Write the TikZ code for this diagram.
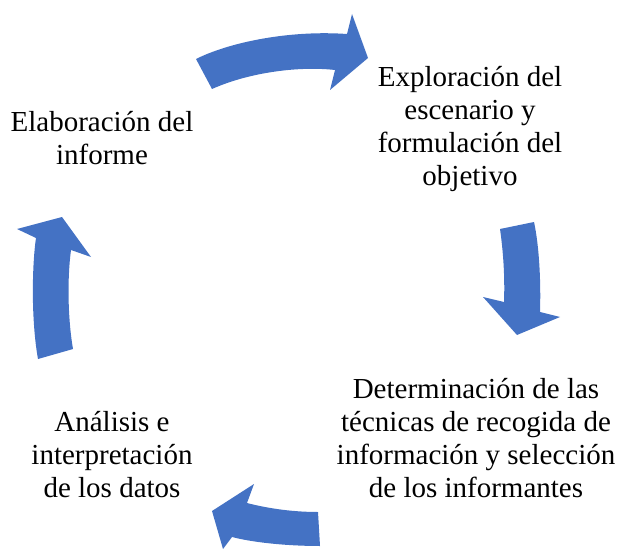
\documentclass[tikz,border=0pt]{standalone}
\usepackage{fontspec}
\setmainfont{Liberation Serif}
\definecolor{arrowblue}{RGB}{68,114,196}
\tikzset{
  cyclearrow/.style={fill=arrowblue, draw=none},
  steptext/.style={align=center, inner sep=0pt, anchor=base, font=\fontsize{29bp}{33bp}\selectfont}
}
\begin{document}
\begin{tikzpicture}[x=1bp,y=-1bp]
\useasboundingbox (0,0) rectangle (619,550);
% top arrow
\fill[cyclearrow] (196,59) .. controls (230,42) and (290,30) .. (347,34)
  -- (352,14) -- (368,58) -- (330,90) -- (335,70)
  .. controls (300,66) and (250,72) .. (212,89) -- cycle;
% right arrow
\fill[cyclearrow] (500,229) -- (534,222) .. controls (539,245) and (541,280) .. (540,312)
  -- (560,317) -- (517,335) -- (483,297) -- (504,302)
  .. controls (505,275) and (503,250) .. (500,229) -- cycle;
% bottom arrow
\fill[cyclearrow] (318,512) -- (320,546) .. controls (290,546) and (255,543) .. (232,537)
  -- (223,549) -- (212,511) -- (254,484) -- (247,503)
  .. controls (270,509) and (295,512) .. (318,512) -- cycle;
% left arrow
\fill[cyclearrow] (38,359) -- (73,349) .. controls (68,320) and (67,280) .. (71,250)
  -- (91,257) -- (62,217) -- (17,229) -- (36,238)
  .. controls (32,265) and (31,320) .. (38,359) -- cycle;
% texts (base anchor = baseline of last line)
\node[steptext] (explo) at (470,186) {Exploración del\\escenario y\\formulación del\\objetivo};
\node[steptext] (deter) at (476,497) {Determinación de las\\técnicas de recogida de\\información y selección\\de los informantes};
\node[steptext] (anal) at (112,497) {Análisis e\\interpretación\\de los datos};
\node[steptext] (elab) at (102,165) {Elaboración del\\informe};
\end{tikzpicture}
\end{document}
